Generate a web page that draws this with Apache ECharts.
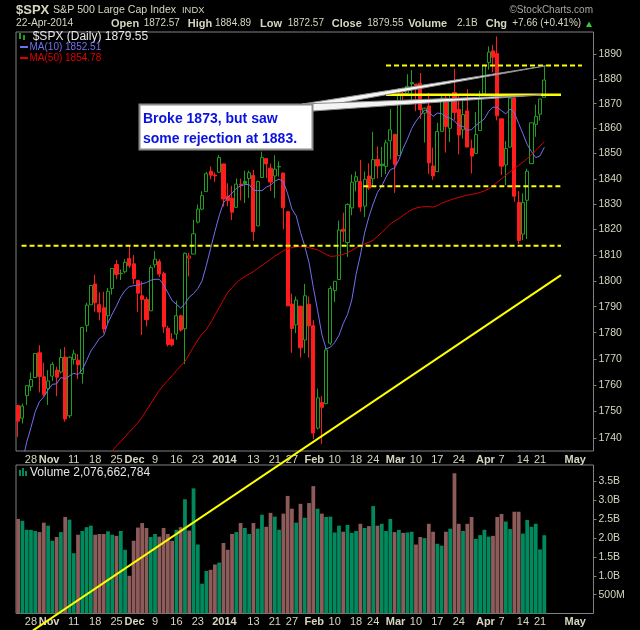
<!DOCTYPE html>
<html>
<head>
<meta charset="UTF-8">
<title>$SPX Daily</title>
<style>
  html, body { margin: 0; padding: 0; background: #000; }
  #chart { width: 640px; height: 630px; }
</style>
<script src="https://cdn.jsdelivr.net/npm/echarts@6/dist/echarts.min.js"></script>
</head>
<body>
<div id="chart"></div>
<script>
// trading days shown (23-Oct-2013 .. 22-Apr-2014) and the empty days on the right
var dates = [
  '2013-10-23','2013-10-24','2013-10-25','2013-10-28','2013-10-29','2013-10-30','2013-10-31',
  '2013-11-01','2013-11-04','2013-11-05','2013-11-06','2013-11-07','2013-11-08','2013-11-11','2013-11-12','2013-11-13','2013-11-14','2013-11-15','2013-11-18','2013-11-19','2013-11-20','2013-11-21','2013-11-22','2013-11-25','2013-11-26','2013-11-27','2013-11-29',
  '2013-12-02','2013-12-03','2013-12-04','2013-12-05','2013-12-06','2013-12-09','2013-12-10','2013-12-11','2013-12-12','2013-12-13','2013-12-16','2013-12-17','2013-12-18','2013-12-19','2013-12-20','2013-12-23','2013-12-24','2013-12-26','2013-12-27','2013-12-30','2013-12-31',
  '2014-01-02','2014-01-03','2014-01-06','2014-01-07','2014-01-08','2014-01-09','2014-01-10','2014-01-13','2014-01-14','2014-01-15','2014-01-16','2014-01-17','2014-01-21','2014-01-22','2014-01-23','2014-01-24','2014-01-27','2014-01-28','2014-01-29','2014-01-30','2014-01-31',
  '2014-02-03','2014-02-04','2014-02-05','2014-02-06','2014-02-07','2014-02-10','2014-02-11','2014-02-12','2014-02-13','2014-02-14','2014-02-18','2014-02-19','2014-02-20','2014-02-21','2014-02-24','2014-02-25','2014-02-26','2014-02-27','2014-02-28',
  '2014-03-03','2014-03-04','2014-03-05','2014-03-06','2014-03-07','2014-03-10','2014-03-11','2014-03-12','2014-03-13','2014-03-14','2014-03-17','2014-03-18','2014-03-19','2014-03-20','2014-03-21','2014-03-24','2014-03-25','2014-03-26','2014-03-27','2014-03-28','2014-03-31',
  '2014-04-01','2014-04-02','2014-04-03','2014-04-04','2014-04-07','2014-04-08','2014-04-09','2014-04-10','2014-04-11','2014-04-14','2014-04-15','2014-04-16','2014-04-17','2014-04-21','2014-04-22'
];
var futureDates = ['2014-04-23','2014-04-24','2014-04-25','2014-04-28','2014-04-29','2014-04-30','2014-05-01','2014-05-02','2014-05-05','2014-05-06','2014-05-07'];

var opens = [
  1752.3,1747.5,1756.0,1759.4,1762.9,1772.3,1763.2,1758.7,1763.4,1765.7,
  1765.0,1770.7,1748.4,1769.7,1769.5,1764.4,1782.8,1790.7,1798.8,1790.8,
  1789.6,1786.5,1797.0,1806.3,1802.9,1803.5,1808.7,1806.6,1800.1,1794.2,
  1792.8,1788.4,1806.2,1807.5,1802.8,1781.7,1777.5,1779.5,1786.5,1781.5,
  1808.8,1810.4,1822.9,1828.0,1834.9,1843.0,1841.5,1842.6,1845.9,1833.2,
  1832.3,1828.7,1837.9,1839.0,1840.1,1841.3,1821.4,1840.5,1848.0,1844.2,
  1841.1,1844.7,1842.3,1827.0,1791.0,1783.0,1790.2,1777.2,1790.9,1782.7,
  1743.8,1753.4,1753.0,1776.0,1796.2,1800.5,1820.1,1814.9,1828.5,1839.0,
  1838.9,1829.2,1841.1,1840.0,1847.7,1845.8,1844.9,1855.1,1857.7,1849.2,
  1874.1,1874.2,1878.5,1877.9,1878.3,1866.2,1869.1,1845.1,1842.8,1858.9,
  1872.3,1860.1,1874.5,1867.7,1859.5,1867.1,1852.1,1850.1,1859.2,1874.0,
  1886.6,1891.4,1890.3,1863.9,1845.5,1852.6,1872.3,1830.7,1818.2,1831.5,
  1846.0,1861.7,1865.8,1872.57
];
var highs = [
  1752.3,1753.0,1759.8,1764.8,1772.1,1775.2,1768.5,1765.7,1768.8,1767.0,
  1773.7,1774.5,1770.8,1773.4,1771.8,1782.0,1791.5,1798.2,1802.3,1795.5,
  1795.7,1797.2,1804.8,1808.1,1804.4,1808.4,1813.6,1810.0,1800.1,1799.8,
  1793.8,1806.0,1811.5,1808.4,1803.6,1782.6,1779.8,1792.3,1786.9,1811.0,
  1810.9,1823.8,1829.8,1835.0,1842.8,1844.9,1842.5,1849.4,1845.9,1838.2,
  1837.2,1840.1,1840.0,1843.2,1843.2,1843.5,1839.3,1850.8,1848.0,1846.0,
  1849.3,1846.9,1842.3,1827.0,1795.0,1793.9,1790.2,1798.8,1793.9,1784.8,
  1758.7,1755.8,1774.1,1798.0,1799.9,1823.5,1826.6,1830.3,1841.7,1842.9,
  1847.5,1842.9,1846.1,1858.7,1852.9,1852.7,1855.5,1867.9,1857.7,1876.2,
  1876.5,1881.9,1883.6,1877.9,1882.4,1868.4,1874.4,1852.4,1862.3,1873.8,
  1874.1,1873.5,1884.0,1873.3,1871.9,1875.9,1855.6,1866.6,1875.2,1885.8,
  1893.2,1893.8,1897.3,1864.0,1855.0,1872.4,1872.5,1835.1,1834.2,1844.0,
  1862.3,1869.6,1871.9,1884.89
];
var lows = [
  1740.5,1745.5,1752.5,1757.7,1762.9,1757.2,1755.7,1752.5,1761.6,1755.8,
  1764.4,1746.2,1747.6,1767.8,1762.3,1760.6,1780.2,1790.7,1788.0,1784.7,
  1779.8,1783.5,1794.7,1800.6,1800.3,1802.8,1804.9,1798.6,1787.9,1779.1,
  1782.4,1788.4,1805.0,1801.4,1779.9,1774.7,1774.7,1777.3,1780.4,1768.0,
  1801.7,1810.4,1822.4,1827.6,1834.8,1839.8,1838.8,1842.4,1829.0,1829.1,
  1823.7,1828.7,1831.4,1830.4,1832.4,1815.5,1821.4,1840.5,1840.3,1835.2,
  1832.4,1840.9,1820.1,1790.3,1772.3,1779.8,1770.5,1772.1,1770.5,1739.7,
  1743.2,1737.9,1752.7,1775.2,1791.8,1800.3,1815.1,1809.3,1825.6,1835.0,
  1827.0,1824.9,1835.6,1836.8,1840.2,1840.7,1841.9,1847.7,1834.4,1849.2,
  1871.1,1874.2,1870.8,1867.0,1863.9,1854.4,1841.9,1839.6,1842.8,1858.9,
  1850.4,1854.6,1863.5,1849.7,1856.0,1852.6,1842.1,1850.1,1859.2,1874.0,
  1883.8,1882.7,1863.3,1841.5,1837.5,1852.4,1830.9,1814.4,1815.8,1816.3,
  1846.0,1856.7,1863.2,1872.57
];
var closes = [
  1746.4,1752.1,1759.8,1762.1,1772.0,1763.3,1756.5,1761.6,1767.9,1763.0,
  1770.5,1747.2,1770.6,1771.9,1767.7,1782.0,1790.6,1798.2,1791.5,1787.9,
  1781.4,1795.9,1804.8,1802.5,1802.8,1807.2,1805.8,1800.9,1795.2,1792.8,
  1785.0,1805.1,1808.4,1802.6,1782.2,1775.5,1775.3,1786.5,1781.0,1810.7,
  1809.6,1818.3,1828.0,1833.3,1842.0,1841.4,1841.1,1848.4,1832.0,1831.4,
  1826.8,1837.9,1837.5,1838.1,1842.4,1819.2,1838.9,1848.4,1845.9,1838.7,
  1843.8,1844.9,1828.5,1790.3,1781.6,1792.5,1774.2,1794.2,1782.6,1741.9,
  1755.2,1751.6,1773.4,1797.0,1799.8,1819.8,1819.3,1829.8,1838.6,1840.8,
  1828.8,1839.8,1836.3,1847.6,1845.1,1845.2,1854.3,1859.5,1845.7,1873.9,
  1873.8,1877.0,1878.0,1877.2,1867.6,1868.2,1846.3,1841.1,1858.8,1872.3,
  1860.8,1872.0,1866.5,1857.4,1865.6,1852.6,1849.0,1857.6,1872.3,1885.5,
  1890.9,1888.8,1865.1,1845.0,1852.0,1872.2,1833.1,1815.7,1830.6,1843.0,
  1862.3,1864.9,1871.9,1879.55
];
// volume in millions of shares
var volumes = [
  2510,2460,2220,2220,2190,2160,2410,2330,1930,2030,
  2160,2560,2490,1600,2090,2190,2290,2330,2090,2110,
  2110,2180,2090,2060,2190,1690,1000,1930,2280,2400,
  2270,2030,2110,2040,2270,2110,1930,2220,2290,3030,
  2200,3320,1830,790,1130,1160,1300,1350,1870,1690,
  2110,2160,2400,2270,2110,2400,2250,2620,2300,2670,
  2570,2220,2650,3120,2780,2410,2910,2540,2930,3380,
  2780,2650,2560,2570,2150,2330,2170,2350,2140,2190,
  2380,2270,2320,2850,2330,2380,2190,2510,2160,2220,
  2140,2150,2170,1830,2030,2000,2380,2170,1850,1800,
  2170,2250,3720,2380,2190,2380,2560,1980,2080,2220,
  2040,2060,2560,2640,2440,2240,2700,2700,2120,2480,
  2300,2380,1700,2076.662784
];
var ma10 = [
  1724.0,1731.0,1738.5,1744.0,1750.0,1753.8,1755.5,1758.2,1760.3,1760.5,
  1762.9,1762.4,1763.5,1764.5,1764.0,1765.9,1769.3,1773.0,1775.3,1777.8,
  1778.9,1783.8,1787.2,1790.3,1793.8,1796.3,1797.8,1798.1,1798.4,1798.9,
  1799.3,1800.2,1800.6,1800.6,1798.5,1795.4,1792.3,1790.9,1789.4,1791.2,
  1793.7,1795.0,1797.0,1800.0,1806.0,1812.6,1819.2,1825.4,1830.5,1832.6,
  1834.3,1836.2,1837.2,1837.7,1837.7,1835.5,1835.3,1835.3,1836.7,1837.4,
  1839.1,1839.8,1838.9,1834.1,1828.0,1825.4,1818.9,1813.5,1807.1,1797.5,
  1788.6,1779.3,1773.8,1774.4,1776.2,1779.0,1783.5,1787.0,1792.6,1802.5,
  1809.9,1818.7,1825.0,1830.1,1834.6,1837.1,1840.6,1843.6,1844.3,1847.6,
  1852.1,1855.8,1860.0,1863.0,1865.2,1867.5,1866.7,1864.9,1866.2,1866.0,
  1864.7,1864.2,1863.1,1861.1,1860.9,1859.3,1859.6,1861.3,1862.6,1863.9,
  1866.9,1868.6,1868.5,1867.2,1865.9,1867.8,1866.3,1862.1,1857.9,1853.6,
  1850.8,1848.4,1849.1,1852.51
];
var ma50 = [
  null,null,null,null,null,null,null,null,null,null,
  null,null,null,null,null,null,null,null,null,null,
  1731.8,1733.6,1735.3,1737.1,1738.8,1740.5,1742.3,1744.0,1745.8,1748.0,
  1750.5,1753.0,1755.5,1758.0,1760.0,1761.8,1763.6,1765.5,1767.3,1769.0,
  1771.8,1774.5,1777.2,1779.5,1781.2,1783.8,1786.8,1789.6,1792.6,1795.5,
  1797.3,1799.2,1800.6,1801.6,1802.6,1803.6,1804.8,1806.0,1807.2,1808.4,
  1809.6,1810.6,1811.7,1812.4,1812.9,1813.2,1813.3,1813.2,1812.9,1812.5,
  1812.0,1811.2,1810.2,1809.5,1809.6,1809.9,1810.3,1810.9,1811.8,1812.8,
  1813.7,1814.4,1815.0,1815.8,1817.3,1818.9,1820.4,1822.2,1823.3,1824.3,
  1825.5,1826.7,1827.8,1828.4,1828.8,1829.0,1829.0,1828.8,1829.4,1830.3,
  1831.0,1831.6,1832.2,1832.6,1833.1,1833.5,1833.8,1834.1,1834.6,1835.2,
  1836.0,1837.2,1838.6,1840.0,1841.4,1842.8,1844.0,1845.3,1846.6,1848.0,
  1849.4,1851.2,1853.0,1854.78
];

var priceTicks = [1740,1750,1760,1770,1780,1790,1800,1810,1820,1830,1840,1850,1860,1870,1880,1890];
var dateLabels = {
  '2013-10-28': '28', '2013-11-01': 'Nov', '2013-11-11': '11', '2013-11-18': '18', '2013-11-25': '25',
  '2013-12-02': 'Dec', '2013-12-09': '9', '2013-12-16': '16', '2013-12-23': '23',
  '2014-01-02': '2014', '2014-01-13': '13', '2014-01-21': '21', '2014-01-27': '27',
  '2014-02-03': 'Feb', '2014-02-10': '10', '2014-02-18': '18', '2014-02-24': '24',
  '2014-03-03': 'Mar', '2014-03-10': '10', '2014-03-17': '17', '2014-03-24': '24',
  '2014-04-01': 'Apr', '2014-04-07': '7', '2014-04-14': '14', '2014-04-21': '21', '2014-05-01': 'May'
};
var boldLabels = ['Nov', 'Dec', '2014', 'Feb', 'Mar', 'Apr', 'May'];

// annotation levels drawn by hand on the chart: [price, fromIndex, toIndex, dashed]
var levels = [
  [1885.4, 86.0, 131.8, true],
  [1873.6, 86.0, 126.9, false],
  [1837.0, 80.7, 126.9, true],
  [1813.6, 0.8, 126.9, true]
];
var trendFrom = [126.9, 1802.2];
var trendTo = [66.0, 1735.4];
var calloutTargets = [[123.3, 1885.3], [122.2, 1873.5]];

var UP = '#1fa11f', DOWN = '#ff1c1c';
var VOL_UP = '#008a5e', VOL_DOWN = '#8e5b5b';
var TXT = '#d6d6c0', AXIS = '#808080';
var FONT = '"Liberation Sans", Arial, sans-serif';

var categories = dates.concat(futureDates);

var candles = [], volBars = [];
for (var i = 0; i < dates.length; i++) {
  var prev = i > 0 ? closes[i - 1] : opens[i];
  var col = closes[i] >= prev ? UP : DOWN;
  var fill = closes[i] > opens[i] ? '#000' : col;
  candles.push({
    value: [opens[i], closes[i], lows[i], highs[i]],
    itemStyle: { color: fill, color0: fill, borderColor: col, borderColor0: col, borderWidth: 1 }
  });
  volBars.push({
    value: volumes[i] * 1e6,
    itemStyle: { color: closes[i] >= prev ? VOL_UP : VOL_DOWN }
  });
}

function dateLabel(v) {
  var t = dateLabels[v];
  if (!t) return '';
  return boldLabels.indexOf(t) >= 0 ? '{b|' + t + '}' : t;
}
var xLabel = {
  interval: 0, color: TXT, fontFamily: FONT, fontSize: 11, margin: 3,
  formatter: dateLabel,
  rich: { b: { fontWeight: 'bold', fontFamily: FONT, fontSize: 11, color: TXT, padding: [0, 0, 0, 2] } }
};

var chart = echarts.init(document.getElementById('chart'));
chart.setOption({
  backgroundColor: '#000',
  animation: false,
  grid: [
    { left: 16, right: 46.5, top: 32, bottom: 179, show: true, borderColor: AXIS, borderWidth: 1, backgroundColor: '#000' },
    { left: 16, right: 46.5, top: 465, bottom: 16.5, show: true, borderColor: AXIS, borderWidth: 1, backgroundColor: '#000' }
  ],
  xAxis: [
    { type: 'category', gridIndex: 0, data: categories, boundaryGap: true,
      axisLine: { show: false }, axisTick: { show: false }, axisLabel: xLabel, splitLine: { show: false } },
    { type: 'category', gridIndex: 1, data: categories, boundaryGap: true,
      axisLine: { show: false }, axisTick: { show: false }, axisLabel: xLabel, splitLine: { show: false } }
  ],
  yAxis: [
    { type: 'log', logBase: 10, gridIndex: 0, position: 'right', min: 1735.2, max: 1899.1,
      axisLine: { show: false }, splitLine: { show: false },
      axisTick: { show: true, length: 3, customValues: priceTicks, lineStyle: { color: AXIS } },
      axisLabel: { customValues: priceTicks, color: TXT, fontFamily: FONT, fontSize: 10.5, margin: 5,
        formatter: function (v) { return String(Math.round(v)); } } },
    { type: 'value', gridIndex: 1, position: 'right', min: 0, max: 3.94e9, interval: 5e8,
      axisLine: { show: false }, splitLine: { show: false },
      axisTick: { show: true, length: 3, lineStyle: { color: AXIS } },
      axisLabel: { color: TXT, fontFamily: FONT, fontSize: 10.5, margin: 5, showMinLabel: false, showMaxLabel: false,
        formatter: function (v) { return v >= 1e9 ? (v / 1e9).toFixed(1) + 'B' : (v / 1e6) + 'M'; } } }
  ],
  series: [
    { type: 'candlestick', name: '$SPX', xAxisIndex: 0, yAxisIndex: 0, data: candles, barWidth: 3.6, z: 3 },
    { type: 'line', name: 'MA(10)', xAxisIndex: 0, yAxisIndex: 0, data: ma10, showSymbol: false,
      lineStyle: { color: '#7070f0', width: 1 }, z: 4 },
    { type: 'line', name: 'MA(50)', xAxisIndex: 0, yAxisIndex: 0, data: ma50, showSymbol: false, connectNulls: false,
      lineStyle: { color: '#d40000', width: 1 }, z: 4 },
    { type: 'bar', name: 'Volume', xAxisIndex: 1, yAxisIndex: 1, data: volBars, barCategoryGap: '12%' }
  ]
});

// ---- drawn annotations (positions taken from the chart's own scales) ----
function px(idx, price) {
  var k = Math.floor(idx);
  var a = chart.convertToPixel({ xAxisIndex: 0, yAxisIndex: 0 }, [k, price]);
  var b = chart.convertToPixel({ xAxisIndex: 0, yAxisIndex: 0 }, [k + 1, price]);
  return [a[0] + (b[0] - a[0]) * (idx - k), a[1]];
}
function txt(x, y, s, color, font, align) {
  return { type: 'text', z: 200, style: { text: s, x: x, y: y, fill: color, font: font,
    textAlign: align || 'left', textVerticalAlign: 'middle', verticalAlign: 'middle' } };
}

var g = [];
levels.forEach(function (l) {
  var p1 = px(l[1], l[0]), p2 = px(l[2], l[0]);
  g.push({ type: 'line', z: 120, shape: { x1: p1[0], y1: p1[1], x2: p2[0], y2: p2[1] },
    style: { stroke: '#ffff00', lineWidth: l[3] ? 2 : 2.5, lineDash: l[3] ? [5, 3] : null } });
});
var t1 = px(trendFrom[0], trendFrom[1]), t2 = px(trendTo[0], trendTo[1]);
var ext = (t1[0] - 30) / (t1[0] - t2[0]);
g.push({ type: 'line', z: 120, shape: { x1: t1[0], y1: t1[1], x2: t1[0] + (t2[0] - t1[0]) * ext, y2: t1[1] + (t2[1] - t1[1]) * ext },
  style: { stroke: '#ffff00', lineWidth: 2 } });

// callout pointers and box
calloutTargets.forEach(function (c, n) {
  var tip = px(c[0], c[1]);
  g.push({ type: 'polygon', z: 130, shape: { points: [[302, 104], tip, [313, n ? 111 : 108]] },
    style: { fill: '#f4f4f4', stroke: '#8c8c8c', lineWidth: 1 } });
});
g.push({ type: 'rect', z: 140, shape: { x: 139.5, y: 104.5, width: 173, height: 45 },
  style: { fill: '#ffffff', stroke: '#8c8c8c', lineWidth: 2 } });
g.push(txt(143, 119.5, 'Broke 1873, but saw', '#0a12e0', 'bold 14px ' + FONT));
g.push(txt(143, 139, 'some rejection at 1883.', '#0a12e0', 'bold 14px ' + FONT));

// header
g.push(txt(16, 10, '$SPX', TXT, 'bold 13px ' + FONT));
g.push(txt(53, 10, 'S&P 500 Large Cap Index', TXT, '10.6px ' + FONT));
g.push(txt(182, 10, 'INDX', TXT, '9.4px ' + FONT));
g.push(txt(593, 10, '\u00a9StockCharts.com', '#a8a8a0', '10px ' + FONT, 'right'));
var hy = 23.5;
g.push(txt(16, hy, '22-Apr-2014', TXT, '10.3px ' + FONT));
var parts = [
  [111, 'Open', 1], [143.7, '1872.57', 0], [187.8, 'High', 1], [215, '1884.89', 0],
  [260, 'Low', 1], [287.8, '1872.57', 0], [331.8, 'Close', 1], [367.3, '1879.55', 0],
  [408.2, 'Volume', 1], [457, '2.1B', 0], [485.7, 'Chg', 1], [512.2, '+7.66 (+0.41%)', 0]
];
parts.forEach(function (p) {
  g.push(txt(p[0], hy, p[1], TXT, (p[2] ? 'bold 11px ' : '10px ') + FONT));
});
g.push({ type: 'polygon', z: 200, shape: { points: [[586, 27], [592, 27], [589, 21.5]] }, style: { fill: '#33cc33' } });

// panel legends
g.push({ type: 'rect', z: 200, shape: { x: 19, y: 33, width: 2, height: 6 }, style: { fill: UP } });
g.push({ type: 'rect', z: 200, shape: { x: 23, y: 35, width: 2, height: 5 }, style: { fill: UP } });
g.push(txt(32.7, 36.5, '$SPX (Daily) 1879.55', '#e6e6e6', '12px ' + FONT));
g.push({ type: 'line', z: 200, shape: { x1: 20, y1: 47, x2: 28, y2: 47 }, style: { stroke: '#7070f0', lineWidth: 2 } });
g.push(txt(29.5, 47, 'MA(10) 1852.51', '#7070f0', '10px ' + FONT));
g.push({ type: 'line', z: 200, shape: { x1: 20, y1: 58, x2: 28, y2: 58 }, style: { stroke: '#e00000', lineWidth: 2 } });
g.push(txt(29.5, 58, 'MA(50) 1854.78', '#e00000', '10px ' + FONT));
g.push({ type: 'rect', z: 200, shape: { x: 19, y: 470, width: 2, height: 6 }, style: { fill: VOL_UP } });
g.push({ type: 'rect', z: 200, shape: { x: 22, y: 468, width: 2, height: 8 }, style: { fill: VOL_UP } });
g.push({ type: 'rect', z: 200, shape: { x: 25, y: 471, width: 2, height: 5 }, style: { fill: VOL_UP } });
g.push(txt(30, 472.5, 'Volume 2,076,662,784', '#e6e6e6', '12px ' + FONT));

chart.setOption({ graphic: g });
</script>
</body>
</html>
